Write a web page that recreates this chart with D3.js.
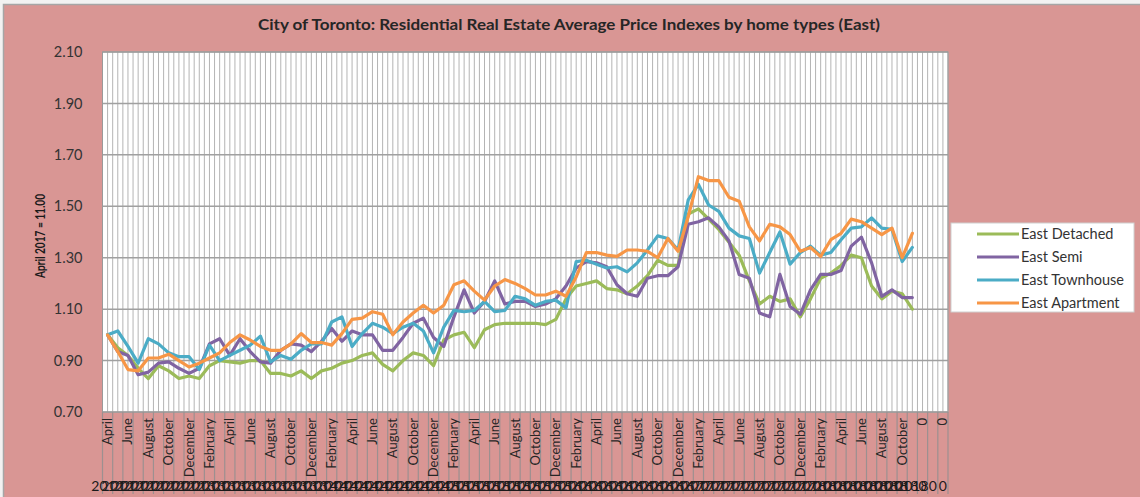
<!DOCTYPE html>
<html>
<meta charset="utf-8">
<style>
  body { margin: 0; background: #f2f2f2; }
  text { font-family: Lato, "Open Sans", sans-serif; }
</style>
<body>
<div id="my_dataviz"></div>

<script src="https://d3js.org/d3.v7.min.js"></script>
<script>

// ---- data ----
var monthNames = ["January", "February", "March", "April", "May", "June", "July",
                  "August", "September", "October", "November", "December"];

// 80 monthly points, April 2012 .. November 2018, then 3 empty rows shown as 0
var months = [];
var years = [];
for (var i = 0; i < 80; i++) {
  months.push(monthNames[(3 + i) % 12]);
  years.push(String(2012 + Math.floor((3 + i) / 12)));
}
months.push("0", "0", "0");
years.push("0", "0", "0");

var seriesNames = ["East Detached", "East Semi", "East Townhouse", "East Apartment"];

var detached = [1.00, 0.95, 0.92, 0.87, 0.83, 0.88, 0.86, 0.83, 0.84, 0.83,
  0.88, 0.90, 0.895, 0.89, 0.90, 0.90, 0.85, 0.85, 0.84, 0.86,
  0.83, 0.86, 0.87, 0.89, 0.90, 0.92, 0.93, 0.885, 0.86, 0.90,
  0.93, 0.92, 0.88, 0.98, 1.00, 1.01, 0.95, 1.02, 1.04, 1.045,
  1.045, 1.045, 1.045, 1.04, 1.06, 1.14, 1.19, 1.20, 1.21, 1.18,
  1.175, 1.16, 1.19, 1.23, 1.29, 1.27, 1.27, 1.47, 1.49, 1.45,
  1.41, 1.36, 1.31, 1.21, 1.12, 1.15, 1.13, 1.14, 1.07, 1.14,
  1.22, 1.24, 1.27, 1.31, 1.30, 1.19, 1.14, 1.17, 1.16, 1.10];

var semi = [1.00, 0.935, 0.92, 0.845, 0.855, 0.89, 0.895, 0.87, 0.85, 0.87,
  0.965, 0.985, 0.92, 0.985, 0.935, 0.895, 0.89, 0.94, 0.965, 0.96,
  0.935, 0.975, 1.025, 0.975, 1.015, 1.00, 1.00, 0.94, 0.94, 0.99,
  1.045, 1.065, 0.99, 0.955, 1.07, 1.175, 1.085, 1.13, 1.21, 1.12,
  1.13, 1.13, 1.11, 1.12, 1.14, 1.19, 1.26, 1.285, 1.28, 1.265,
  1.195, 1.16, 1.15, 1.22, 1.23, 1.23, 1.265, 1.43, 1.44, 1.455,
  1.42, 1.365, 1.235, 1.22, 1.085, 1.07, 1.235, 1.11, 1.08, 1.175,
  1.235, 1.235, 1.25, 1.345, 1.38, 1.28, 1.15, 1.175, 1.145, 1.145];

var townhouse = [1.00, 1.015, 0.955, 0.89, 0.985, 0.965, 0.93, 0.915, 0.915, 0.865,
  0.96, 0.90, 0.92, 0.94, 0.96, 0.995, 0.895, 0.92, 0.905, 0.94,
  0.965, 0.965, 1.05, 1.07, 0.955, 1.005, 1.045, 1.03, 1.005, 1.03,
  1.045, 1.015, 0.93, 1.03, 1.095, 1.09, 1.095, 1.13, 1.09, 1.095,
  1.15, 1.14, 1.115, 1.13, 1.135, 1.105, 1.285, 1.29, 1.275, 1.26,
  1.265, 1.245, 1.28, 1.33, 1.385, 1.375, 1.33, 1.525, 1.585, 1.505,
  1.48, 1.415, 1.385, 1.375, 1.24, 1.32, 1.40, 1.275, 1.32, 1.345,
  1.31, 1.32, 1.37, 1.415, 1.42, 1.455, 1.415, 1.41, 1.285, 1.34];

var apartment = [1.00, 0.935, 0.865, 0.86, 0.91, 0.91, 0.925, 0.90, 0.875, 0.89,
  0.91, 0.93, 0.97, 1.00, 0.98, 0.955, 0.94, 0.94, 0.965, 1.005,
  0.97, 0.97, 0.96, 1.005, 1.06, 1.065, 1.09, 1.08, 1.00, 1.05,
  1.085, 1.115, 1.085, 1.115, 1.195, 1.21, 1.17, 1.135, 1.19, 1.215,
  1.20, 1.18, 1.155, 1.155, 1.17, 1.15, 1.225, 1.32, 1.32, 1.31,
  1.305, 1.33, 1.33, 1.325, 1.30, 1.375, 1.325, 1.46, 1.615, 1.60,
  1.60, 1.535, 1.52, 1.42, 1.365, 1.43, 1.42, 1.39, 1.325, 1.34,
  1.305, 1.37, 1.395, 1.45, 1.44, 1.415, 1.39, 1.415, 1.30, 1.395];

var yTicks = [0.70, 0.90, 1.10, 1.30, 1.50, 1.70, 1.90, 2.10];
var colors = ["#9bbb59", "#8064a2", "#4bacc6", "#f79646"];

// ---- layout ----
var W = 1140, H = 497;
var margin = {top: 52, right: 192, bottom: 85, left: 102.5},
    width = W - margin.left - margin.right,
    height = H - margin.top - margin.bottom;

var svg = d3.select("#my_dataviz")
  .append("svg")
    .attr("width", W)
    .attr("height", H);

// pink chart area with grey frame
svg.append("rect")
  .attr("x", 3.5).attr("y", 4.5)
  .attr("width", W + 10).attr("height", H + 10)
  .attr("fill", "#d99694")
  .attr("stroke", "#a6a6a6")
  .attr("stroke-width", 1.5);

// title
svg.append("text")
  .attr("x", 569).attr("y", 30)
  .attr("text-anchor", "middle")
  .attr("textLength", 622)
  .attr("lengthAdjust", "spacingAndGlyphs")
  .style("font-size", "16px")
  .style("font-weight", "bold")
  .attr("fill", "#262626")
  .text("City of Toronto: Residential Real Estate Average Price Indexes by home types (East)");

var g = svg.append("g")
  .attr("transform", "translate(" + margin.left + "," + margin.top + ")");

// scales
var x = d3.scaleBand()
  .domain(d3.range(months.length))
  .range([0, width])
  .paddingInner(0).paddingOuter(0);

var y = d3.scaleLinear()
  .domain([0.70, 2.10])
  .range([height, 0]);

// plot background
g.append("rect")
  .attr("width", width).attr("height", height)
  .attr("fill", "white");

// vertical grid lines: category edges and centres
var half = [];
for (var k = 0; k <= months.length * 2; k++) half.push(k * x.bandwidth() / 2);
g.append("g").selectAll("line")
  .data(half)
  .enter().append("line")
    .attr("x1", function(d) { return d; })
    .attr("x2", function(d) { return d; })
    .attr("y1", 0).attr("y2", height)
    .attr("stroke", "#b4b4b4")
    .attr("stroke-width", 1);

// horizontal grid lines
g.append("g").selectAll("line")
  .data(yTicks)
  .enter().append("line")
    .attr("x1", 0).attr("x2", width)
    .attr("y1", function(d) { return y(d); })
    .attr("y2", function(d) { return y(d); })
    .attr("stroke", "#a0a0a0")
    .attr("stroke-width", 1.5);

// plot border
g.append("rect")
  .attr("width", width).attr("height", height)
  .attr("fill", "none")
  .attr("stroke", "#9a9a9a")
  .attr("stroke-width", 1);

// y axis labels
var yAxis = g.append("g")
  .attr("transform", "translate(-17,0)")
  .call(d3.axisLeft(y).tickValues(yTicks).tickFormat(d3.format(".2f")).tickSize(0));
yAxis.select(".domain").remove();
yAxis.selectAll("text")
  .style("font-size", "14.5px")
  .style("font-family", "Lato, sans-serif")
  .attr("fill", "#333");

svg.append("text")
  .attr("transform", "translate(45,236) rotate(-90)")
  .attr("text-anchor", "middle")
  .attr("textLength", 84)
  .attr("lengthAdjust", "spacingAndGlyphs")
  .style("font-size", "13px")
  .style("font-weight", "bold")
  .attr("fill", "#1a1a1a")
  .text("April 2017 = 11.00");

// category axis: separators through both label rows
var edges = d3.range(months.length + 1).map(function(d) { return d * x.bandwidth(); });
g.append("g").selectAll("line")
  .data(edges)
  .enter().append("line")
    .attr("x1", function(d) { return d; })
    .attr("x2", function(d) { return d; })
    .attr("y1", height).attr("y2", height + 82)
    .attr("stroke", "#9c9090")
    .attr("stroke-width", 1.2);

// month row, every second label
g.append("g").selectAll("text")
  .data(d3.range(months.length).filter(function(d) { return d % 2 == 0; }))
  .enter().append("text")
    .attr("transform", function(d) {
      return "translate(" + (x(d) + x.bandwidth() / 2 + 4.5) + "," + (height + 6) + ") rotate(-90)";
    })
    .attr("text-anchor", "end")
    .style("font-size", "13px")
    .attr("fill", "#262626")
    .text(function(d) { return months[d]; });

// year row (every category has its own label, so they overlap)
g.append("g").selectAll("text")
  .data(d3.range(years.length))
  .enter().append("text")
    .attr("x", function(d) { return x(d) + x.bandwidth() / 2; })
    .attr("y", height + 79)
    .attr("text-anchor", "middle")
    .style("font-size", "14px")
    .attr("fill", "#1a1a1a")
    .text(function(d) { return years[d]; });

// series lines
var allSeries = [detached, semi, townhouse, apartment];
var line = d3.line()
  .x(function(d, i) { return x(i) + x.bandwidth() / 2; })
  .y(function(d) { return y(d); });

allSeries.forEach(function(s, si) {
  g.append("path")
    .datum(s)
    .attr("fill", "none")
    .attr("stroke", colors[si])
    .attr("stroke-width", 3.2)
    .attr("stroke-linejoin", "round")
    .attr("stroke-linecap", "round")
    .attr("d", line);
});

// legend
var legend = svg.append("g").attr("transform", "translate(951,223)");
legend.append("rect")
  .attr("width", 183).attr("height", 89)
  .attr("fill", "white")
  .attr("stroke", "#d0d0d0");
seriesNames.forEach(function(name, si) {
  var ly = 11 + si * 23;
  legend.append("line")
    .attr("x1", 26).attr("x2", 68)
    .attr("y1", ly).attr("y2", ly)
    .attr("stroke", colors[si])
    .attr("stroke-width", 3.2);
  legend.append("text")
    .attr("x", 70).attr("y", ly)
    .attr("dy", "0.35em")
    .style("font-size", "14.5px")
    .attr("fill", "#333")
    .text(name);
});

</script>
</body>
</html>
